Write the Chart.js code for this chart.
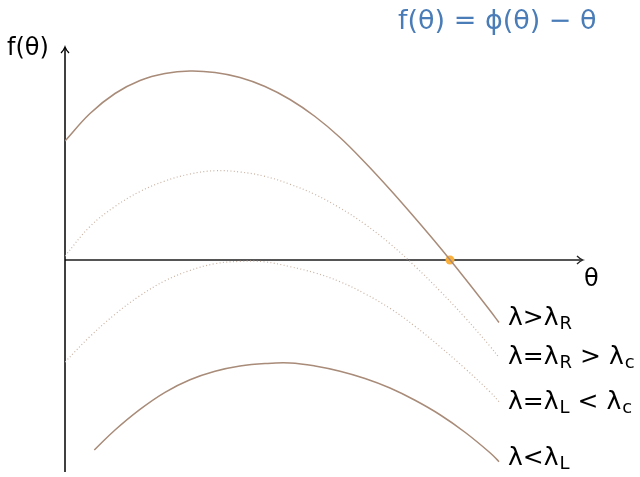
<!DOCTYPE html>
<html>
<head>
<meta charset="utf-8">
<script src="https://cdn.jsdelivr.net/npm/chart.js@4"></script>
<style>
  html, body { margin: 0; padding: 0; background: #fff; }
  #wrap { width: 640px; height: 477px; }
</style>
</head>
<body>
<div id="wrap"><canvas id="fChart"></canvas></div>
<script>
// theta samples shared by the three curves that start at the axis
const theta = [0, 0.5, 1, 1.5, 2, 2.5, 3, 3.5, 4, 4.5, 5, 5.5, 6, 6.5, 7, 7.5, 8, 8.5, 8.68];

// lambda > lambda_R
const fHigh = [2.38, 2.93, 3.33, 3.59, 3.73, 3.78, 3.75, 3.65, 3.47, 3.21, 2.87, 2.45, 1.95, 1.41, 0.84, 0.25, -0.37, -1.01, -1.25];
// lambda = lambda_R
const fR = [0.08, 0.67, 1.07, 1.37, 1.58, 1.72, 1.785, 1.76, 1.673, 1.515, 1.31, 1.04, 0.715, 0.325, -0.125, -0.62, -1.15, -1.725, -1.95];
// lambda = lambda_L
const fL = [-2.04, -1.53, -1.086, -0.713, -0.416, -0.209, -0.074, -0.028, -0.038, -0.134, -0.258, -0.434, -0.676, -0.966, -1.327, -1.734, -2.17, -2.637, -2.834];

// lambda < lambda_L starts a little right of the axis
const thetaLow = [0.586, 1, 1.5, 2, 2.5, 3, 3.5, 4, 4.5, 5, 5.5, 6, 6.5, 7, 7.5, 8, 8.5, 8.68];
const fLow = [-3.8, -3.4, -2.987, -2.646, -2.396, -2.226, -2.121, -2.071, -2.06, -2.12, -2.225, -2.37, -2.56, -2.805, -3.095, -3.445, -3.855, -4.034];

// fixed point where the top curve crosses zero
const fixedTheta = [7.7];
const fixedF = [0];

// curve labels: [text, subscript] pieces
const curveLabels = [
  [['λ>λ', ''], ['R', 'sub']],
  [['λ=λ', ''], ['R', 'sub'], [' > λ', ''], ['c', 'sub']],
  [['λ=λ', ''], ['L', 'sub'], [' < λ', ''], ['c', 'sub']],
  [['λ<λ', ''], ['L', 'sub']]
];
const labelY = [-1.16, -1.94, -2.84, -3.96];

const zip = (xs, ys) => xs.map((x, i) => ({ x: x, y: ys[i] }));

const solid = '#a88b78';
const dotted = '#c9b2a2';
const font = '"DejaVu Sans", sans-serif';

function drawRich(ctx, parts, x, y, size) {
  parts.forEach(([txt, kind]) => {
    if (kind === 'sub') {
      ctx.font = `${Math.round(size * 0.7)}px ${font}`;
      ctx.fillText(txt, x + 1, y + size * 0.25);
    } else {
      ctx.font = `${size}px ${font}`;
      ctx.fillText(txt, x, y);
    }
    x += ctx.measureText(txt).width + (kind === 'sub' ? 1 : 0);
  });
}

const axesPlugin = {
  id: 'axesPlugin',
  beforeDatasetsDraw(chart) {
    const { ctx, scales: { x, y }, chartArea } = chart;
    const x0 = x.getPixelForValue(0);
    const y0 = y.getPixelForValue(0);
    ctx.save();
    // theta axis
    ctx.strokeStyle = '#555';
    ctx.lineWidth = 2;
    ctx.beginPath();
    ctx.moveTo(x0, y0);
    ctx.lineTo(chartArea.right - 1, y0);
    ctx.stroke();
    ctx.lineWidth = 1.3;
    ctx.strokeStyle = '#222';
    ctx.beginPath();
    ctx.moveTo(chartArea.right - 6, y0 - 4);
    ctx.quadraticCurveTo(chartArea.right - 3, y0 - 1, chartArea.right, y0);
    ctx.quadraticCurveTo(chartArea.right - 3, y0 + 1, chartArea.right - 6, y0 + 4);
    ctx.stroke();
    // f axis
    ctx.strokeStyle = '#000';
    ctx.lineWidth = 1.5;
    ctx.beginPath();
    ctx.moveTo(x0, chartArea.bottom);
    ctx.lineTo(x0, chartArea.top + 1);
    ctx.stroke();
    ctx.lineWidth = 1.3;
    ctx.beginPath();
    ctx.moveTo(x0 - 4, chartArea.top + 6);
    ctx.quadraticCurveTo(x0 - 1, chartArea.top + 3, x0, chartArea.top);
    ctx.quadraticCurveTo(x0 + 1, chartArea.top + 3, x0 + 4, chartArea.top + 6);
    ctx.stroke();
    ctx.restore();
  },
  afterDraw(chart) {
    const { ctx, scales: { x, y } } = chart;
    ctx.save();
    ctx.textBaseline = 'middle';
    ctx.fillStyle = '#000';
    ctx.font = `24px ${font}`;
    ctx.fillText('f(θ)', 7, 49);
    ctx.fillText('θ', 584, 280);

    ctx.fillStyle = '#4a7db8';
    ctx.font = `27px ${font}`;
    ctx.fillText('f(θ) = ϕ(θ) − θ', 398, 22);

    ctx.fillStyle = '#000';
    const lx = x.getPixelForValue(8.68) + 9;
    curveLabels.forEach((parts, i) => {
      drawRich(ctx, parts, lx, y.getPixelForValue(labelY[i]), 25);
    });
    ctx.restore();
  }
};

new Chart(document.getElementById('fChart'), {
  type: 'line',
  data: {
    datasets: [
      { data: zip(theta, fHigh), borderColor: solid, borderWidth: 1.5 },
      { data: zip(theta, fR), borderColor: dotted, borderWidth: 1.2, borderDash: [1, 2.4] },
      { data: zip(theta, fL), borderColor: dotted, borderWidth: 1.2, borderDash: [1, 2.4] },
      { data: zip(thetaLow, fLow), borderColor: solid, borderWidth: 1.5 },
      { data: zip(fixedTheta, fixedF), showLine: false, pointRadius: 4.5,
        pointBackgroundColor: '#fbb03b', pointBorderWidth: 0 }
    ]
  },
  options: {
    responsive: true,
    maintainAspectRatio: false,
    animation: false,
    layout: { padding: { left: 65, right: 57, top: 47, bottom: 5 } },
    elements: {
      line: { tension: 0.4, fill: false },
      point: { radius: 0 }
    },
    plugins: { legend: { display: false }, tooltip: { enabled: false } },
    scales: {
      x: { type: 'linear', min: 0, max: 10.36, display: false },
      y: { min: -4.24, max: 4.26, display: false }
    }
  },
  plugins: [axesPlugin]
});
</script>
</body>
</html>
